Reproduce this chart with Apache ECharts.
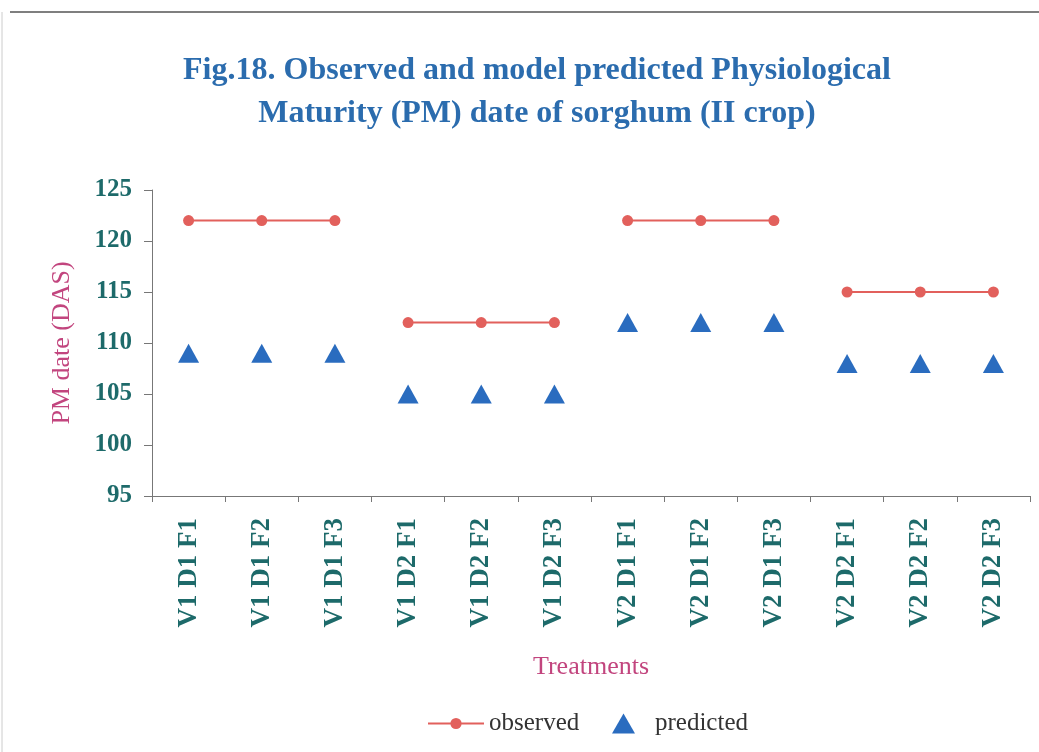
<!DOCTYPE html>
<html>
<head>
<meta charset="utf-8">
<script src="https://cdn.jsdelivr.net/npm/echarts@6/dist/echarts.min.js"></script>
<style>
  html, body { margin: 0; padding: 0; background: #fff; }
  #main { width: 1039px; height: 752px; }
</style>
</head>
<body>
<div id="main"></div>
<script>
var treatments = ['V1 D1 F1', 'V1 D1 F2', 'V1 D1 F3', 'V1 D2 F1', 'V1 D2 F2', 'V1 D2 F3',
                  'V2 D1 F1', 'V2 D1 F2', 'V2 D1 F3', 'V2 D2 F1', 'V2 D2 F2', 'V2 D2 F3'];
var observed = [122, 122, 122, 112, 112, 112, 122, 122, 122, 115, 115, 115];
var predicted = [109, 109, 109, 105, 105, 105, 112, 112, 112, 108, 108, 108];
var groupSize = 3; // observed line is broken between treatment groups

var serif = '"Liberation Serif", "DejaVu Serif", serif';
var teal = '#1d6a6a';
var pink = '#c2457e';
var red = '#e2605c';
var blue = '#2a6cbf';

// one line series per group, all named 'observed' so the legend shows one entry
var obsSeries = [];
for (var g = 0; g < treatments.length / groupSize; g++) {
    var d = observed.map(function (v, i) {
        return Math.floor(i / groupSize) === g ? v : '-';
    });
    obsSeries.push({
        name: 'observed',
        type: 'line',
        data: d,
        symbol: 'circle',
        symbolSize: 11,
        itemStyle: { color: red },
        lineStyle: { color: red, width: 2 },
        z: 3
    });
}

var legendText = { fontFamily: serif, fontSize: 25, color: '#333' };

var option = {
    animation: false,
    title: {
        text: 'Fig.18. Observed and model predicted Physiological\nMaturity (PM) date of sorghum (II crop)',
        left: 532,
        textAlign: 'center',
        top: 44,
        textStyle: {
            fontFamily: serif,
            fontWeight: 'bold',
            fontSize: 32,
            lineHeight: 43,
            color: '#2b6cae'
        }
    },
    graphic: [
        { type: 'line', shape: { x1: 10, y1: 12, x2: 1039, y2: 12 }, style: { stroke: '#555', lineWidth: 1.5 } },
        { type: 'line', shape: { x1: 2, y1: 12, x2: 2, y2: 752 }, style: { stroke: '#ccc', lineWidth: 1 } }
    ],
    legend: [{
        data: ['observed'],
        left: 422,
        top: 706,
        itemWidth: 56,
        itemHeight: 14,
        textStyle: legendText
    }, {
        data: ['predicted'],
        left: 607,
        top: 706,
        itemWidth: 23,
        itemHeight: 20,
        textStyle: Object.assign({ padding: [0, 0, 0, 15] }, legendText)
    }],
    grid: { left: 152, right: 9, top: 190, bottom: 256 },
    xAxis: {
        type: 'category',
        data: treatments,
        boundaryGap: true,
        name: 'Treatments',
        nameLocation: 'middle',
        nameGap: 158,
        nameTextStyle: { fontFamily: serif, fontSize: 26, color: pink },
        axisLine: { lineStyle: { color: '#777', width: 1 } },
        axisTick: { show: true, length: 6, lineStyle: { color: '#777' } },
        axisLabel: {
            rotate: 90,
            interval: 0,
            margin: 22,
            fontFamily: serif,
            fontWeight: 'bold',
            fontSize: 27,
            color: teal
        }
    },
    yAxis: {
        type: 'value',
        min: 95,
        max: 125,
        interval: 5,
        name: 'PM date (DAS)',
        nameLocation: 'middle',
        nameGap: 77,
        nameTextStyle: { fontFamily: serif, fontSize: 26, color: pink },
        axisLine: { show: true, lineStyle: { color: '#777', width: 1 } },
        axisTick: { show: true, length: 8, lineStyle: { color: '#777' } },
        splitLine: { show: false },
        axisLabel: {
            margin: 20,
            fontFamily: serif,
            fontWeight: 'bold',
            fontSize: 25,
            color: teal
        }
    },
    series: obsSeries.concat([{
        name: 'predicted',
        type: 'scatter',
        data: predicted,
        symbol: 'triangle',
        symbolSize: [21, 19],
        itemStyle: { color: blue, opacity: 1 },
        z: 4
    }])
};

var myChart = echarts.init(document.getElementById('main'));
myChart.setOption(option);
</script>
</body>
</html>
